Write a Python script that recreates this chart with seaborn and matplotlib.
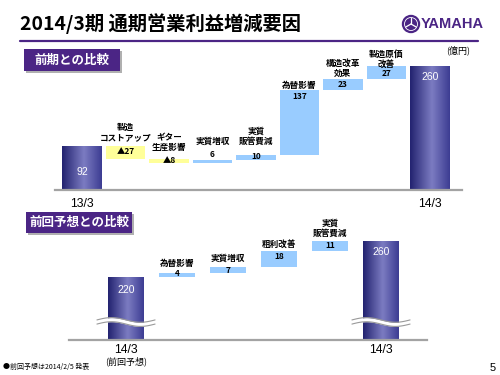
import numpy as np
import pandas as pd
import matplotlib
matplotlib.use('Agg')
import matplotlib.pyplot as plt
import seaborn as sns
from matplotlib.colors import LinearSegmentedColormap
from matplotlib.patches import Rectangle, Circle

# ---------------- data ----------------
top_labels = ['13/3', '製造\nコストアップ', 'ギター\n生産影響', '実質増収', '実質\n販管費減',
              '為替影響', '構造改革\n効果', '製造原価\n改善', '14/3']
top_values = [92, -27, -8, 6, 10, 137, 23, 27, 260]
top_kinds = ['total', 'neg', 'neg', 'pos', 'pos', 'pos', 'pos', 'pos', 'total']

bot_labels = ['14/3', '為替影響', '実質増収', '粗利改善', '実質\n販管費減', '14/3']
bot_values = [220, 4, 7, 18, 11, 260]
bot_kinds = ['total', 'pos', 'pos', 'pos', 'pos', 'total']
bot_sub = '(前回予想)'

title = '2014/3期 通期営業利益増減要因'
tab1 = '前期との比較'
tab2 = '前回予想との比較'
unit = '(億円)'
footnote = '●前回予想は2014/2/5 発表'
page = '5'

# label offsets (pixels) relative to bar tops
top_val_off = [26, 5, 1, -6, 1, 6, 5, 7.5, 10.5]
top_cat_off = [0, 14, 16.6, 19, 19, 5, 11, 7, 0]
bot_val_off = [13, 0, 3, 6, 5, 11]
bot_cat_off = [0, 10, 9, 7, 13, 0]

# ---------------- style ----------------
sns.set_theme(style='white')
plt.rcParams['font.family'] = ['Noto Sans CJK JP', 'DejaVu Sans']

PURPLE = '#4b2585'
COLORS = {'total': '#3b3b95', 'neg': '#ffff99', 'pos': '#99ccff'}
cmap = LinearSegmentedColormap.from_list(
    'g', [(0, '#22226f'), (0.55, '#7c7cc2'), (1, '#3c3c92')])
grad = np.linspace(0, 1, 256).reshape(1, -1)


def waterfall(values, kinds):
    bottoms, heights = [], []
    run = 0
    for v, k in zip(values, kinds):
        if k == 'total':
            bottoms.append(0)
            heights.append(v)
            run = v
        else:
            new = run + v
            bottoms.append(min(run, new))
            heights.append(abs(v))
            run = new
    return bottoms, heights


def draw(ax, labels, values, kinds, width, xlim, ylim, val_off, cat_off):
    bottoms, heights = waterfall(values, kinds)
    keys = [f'k{i}' for i in range(len(values))]
    df = pd.DataFrame({'key': keys, 'h': heights})
    sns.barplot(data=df, x='key', y='h', hue='key',
                palette={k: COLORS[t] for k, t in zip(keys, kinds)},
                legend=False, width=width, saturation=1, edgecolor='none',
                linewidth=0, ax=ax)
    patches = list(ax.patches)
    for p, b in zip(patches, bottoms):
        p.set_y(b)
    for p, k in zip(patches, kinds):
        if k == 'total':
            x0, w = p.get_x(), p.get_width()
            y0, h = p.get_y(), p.get_height()
            ax.imshow(grad, cmap=cmap, extent=[x0, x0 + w, y0, y0 + h],
                      aspect='auto', interpolation='bicubic',
                      zorder=p.get_zorder() + 0.1)
    ax.set_xlim(*xlim)
    ax.set_ylim(*ylim)
    ax.set_aspect('auto')
    for s in ['top', 'left', 'right']:
        ax.spines[s].set_visible(False)
    ax.spines['bottom'].set_color('#a3a3a3')
    ax.spines['bottom'].set_linewidth(1.6)
    ax.set_yticks([])
    ax.set_xlabel('')
    ax.set_ylabel('')
    ax.tick_params(axis='x', length=0)
    tops = [b + h for b, h in zip(bottoms, heights)]
    for i, (v, k, t) in enumerate(zip(values, kinds, tops)):
        if k == 'total':
            ax.annotate(str(v), (i, t), xytext=(0, -val_off[i]),
                        textcoords='offset pixels', ha='center', va='center',
                        color='white', fontsize=7.5,
                        fontfamily='Liberation Sans', zorder=10)
        else:
            txt = ('▲' + str(abs(v))) if k == 'neg' else str(v)
            ax.annotate(txt, (i, t), xytext=(0, -val_off[i]),
                        textcoords='offset pixels', ha='center', va='center',
                        color='black', fontsize=6, fontweight='bold',
                        zorder=10, annotation_clip=False)
            ax.annotate(labels[i], (i, t), xytext=(0, cat_off[i]),
                        textcoords='offset pixels', ha='center', va='center',
                        color='black', fontsize=6.2, fontweight='bold',
                        linespacing=1.2, zorder=10, annotation_clip=False)
    return tops


fig = plt.figure(figsize=(5, 3.75), dpi=100)

# --- top chart ---
axT = fig.add_axes([55 / 500, (375 - 190) / 375, (462 - 55) / 500, (190 - 61.75) / 375])
axT.patch.set_alpha(0)
draw(axT, top_labels, top_values, top_kinds, 0.9,
     ((55 - 82) / 43.5, (462 - 82) / 43.5), (0, 270), top_val_off, top_cat_off)
tot_idx = [i for i, k in enumerate(top_kinds) if k == 'total']
axT.set_xticks(tot_idx, [top_labels[i] for i in tot_idx], fontsize=8.7,
               fontfamily='Liberation Sans', color='black')
axT.tick_params(axis='x', pad=6)

# --- bottom chart ---
axB = fig.add_axes([69 / 500, (375 - 340) / 375, (427 - 69) / 500, (340 - 222) / 375])
axB.patch.set_alpha(0)
draw(axB, bot_labels, bot_values, bot_kinds, 0.7,
     ((69 - 126) / 51, (427 - 126) / 51), (150, 150 + 118 / 0.9), bot_val_off, bot_cat_off)
btot = [i for i, k in enumerate(bot_kinds) if k == 'total']
axB.set_xticks(btot, [bot_labels[i] for i in btot], fontsize=8.7,
               fontfamily='Liberation Sans', color='black')
axB.tick_params(axis='x', pad=3)
axB.annotate(bot_sub, (btot[0], 0), xycoords=('data', 'axes fraction'),
             xytext=(0, -21), textcoords='offset pixels', ha='center', va='center',
             fontsize=6.5, color='black', annotation_clip=False)
# broken-axis waves
xs = np.linspace(-0.57, 0.57, 80)
wave = -2.6 * np.sin(2 * np.pi * xs / 1.14)
for i in btot:
    axB.fill_between(i + xs, 170 + wave - 2.3, 170 + wave + 2.3, color='white',
                     zorder=8, linewidth=0)
    axB.plot(i + xs, 170 + wave - 2.3, color='#9a9a9a', lw=0.8, zorder=9)
    axB.plot(i + xs, 170 + wave + 2.3, color='#9a9a9a', lw=0.8, zorder=9)

# --- overlay decorations (pixel coords) ---
ov = fig.add_axes([0, 0, 1, 1])
ov.set_xlim(0, 500)
ov.set_ylim(375, 0)
ov.axis('off')
ov.patch.set_alpha(0)

ov.text(20, 24, title, ha='left', va='center', fontsize=13.9, fontweight='bold',
        color='black')
ov.plot([20, 478], [41, 41], color=PURPLE, lw=1.6)

# logo
ov.add_patch(Circle((411, 24), 8.5, color=PURPLE))
for ang in [90, 210, 330]:
    a = np.deg2rad(ang)
    ov.plot([411, 411 + 6 * np.cos(a)], [24, 24 - 6 * np.sin(a)], color='white', lw=0.9)
ov.add_patch(Circle((411, 24), 6.5, fill=False, ec='white', lw=0.6))
ov.text(421, 24.5, 'YAMAHA', ha='left', va='center', fontsize=10.5,
        fontweight='bold', color=PURPLE, fontfamily='Liberation Sans')

# tabs
for (x0, y0, x1, y1, txt) in [(24, 49, 120, 71, tab1), (26, 212, 132, 233, tab2)]:
    ov.add_patch(Rectangle((x0 + 2, y0 + 2), x1 - x0, y1 - y0, color='#b0b0b0', lw=0))
    ov.add_patch(Rectangle((x0, y0), x1 - x0, y1 - y0, color=PURPLE, lw=0))
    ov.text((x0 + x1) / 2, (y0 + y1) / 2, txt, ha='center', va='center',
            color='white', fontsize=9, fontweight='bold')

ov.text(458, 50, unit, ha='center', va='center', fontsize=6.5, color='black')
ov.text(3, 367, footnote, ha='left', va='center', fontsize=5, color='black')
ov.text(493, 368, page, ha='center', va='center', fontsize=8, color='black',
        fontfamily='Liberation Sans')

fig.savefig('out.png', dpi=100)
